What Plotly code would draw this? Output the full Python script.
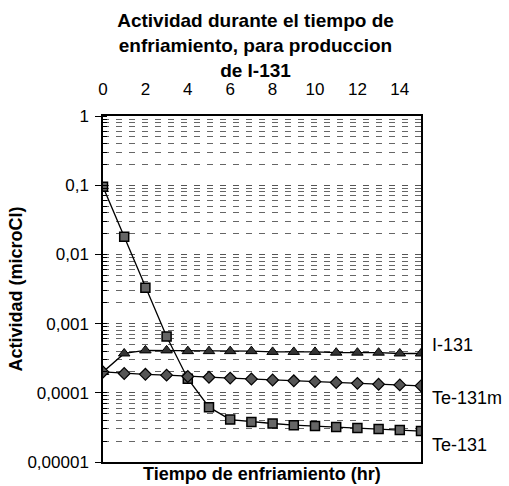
import plotly.graph_objects as go

# ---- data ----
tiempo = list(range(16))  # hr
te131 = [0.095, 0.018, 0.0033, 0.00065, 0.00016, 0.000062, 0.000041, 0.000038,
         0.000036, 0.000034, 0.000033, 0.000032, 0.000031, 0.000030, 0.000029, 0.000028]
i131 = [0.0002, 0.00037, 0.00041, 0.00041, 0.00040, 0.00040, 0.00040, 0.00040,
        0.00039, 0.00039, 0.00039, 0.00038, 0.00038, 0.00038, 0.00037, 0.00037]
te131m = [0.0002, 0.00019, 0.000185, 0.00018, 0.000172, 0.000168, 0.000163, 0.000158,
          0.000153, 0.000149, 0.000145, 0.000141, 0.000137, 0.000133, 0.00013, 0.000126]

x_ticks = [0, 2, 4, 6, 8, 10, 12, 14]
y_tickvals = [1, 0.1, 0.01, 0.001, 0.0001, 0.00001]
y_ticktext = ["1", "0,1", "0,01", "0,001", "0,0001", "0,00001"]

series_names = ["I-131", "Te-131m", "Te-131"]
label_y = [-3.31, -4.075, -4.754]  # log10 positions of the right-side labels

FONT = "Liberation Sans, Arial, sans-serif"

fig = go.Figure()
fig.add_trace(go.Scatter(
    x=tiempo, y=te131, name="Te-131", mode="lines+markers",
    line=dict(color="black", width=1.3),
    marker=dict(symbol="square", size=9, color="#666666", line=dict(color="black", width=1.5))))
fig.add_trace(go.Scatter(
    x=tiempo, y=i131, name="I-131", mode="lines+markers",
    line=dict(color="black", width=1.3),
    marker=dict(symbol="triangle-up", size=10, color="#333333", line=dict(color="black", width=1))))
fig.add_trace(go.Scatter(
    x=tiempo, y=te131m, name="Te-131m", mode="lines+markers",
    line=dict(color="black", width=1.3),
    marker=dict(symbol="diamond", size=9, color="#555555", line=dict(color="black", width=1.2))))

for name, ly in zip(series_names, label_y):
    fig.add_annotation(x=1, xref="paper", xanchor="left", xshift=9,
                       y=ly, yref="y", yanchor="middle", showarrow=False,
                       text=name, font=dict(family=FONT, size=18, color="black"))

fig.add_annotation(x=0.5, xref="paper", y=0, yref="paper", yanchor="top", yshift=0,
                   showarrow=False, text="<b>Tiempo de enfriamiento (hr)</b>",
                   font=dict(family=FONT, size=18, color="black"))

fig.update_layout(
    width=509, height=486,
    margin=dict(l=103, r=88, t=116, b=24, autoexpand=False),
    paper_bgcolor="white", plot_bgcolor="white",
    showlegend=False,
    title=dict(text="<b>Actividad durante el tiempo de<br>enfriamiento, para produccion<br>de I-131</b>",
               x=0.502, xanchor="center", xref="container",
               y=0.944, yanchor="top", yref="container",
               font=dict(family=FONT, size=19, color="black")),
    xaxis=dict(range=[0, 15], side="top", tickvals=x_ticks, ticks="",
               showline=True, linecolor="black", linewidth=1.5, mirror=True,
               showgrid=False, zeroline=False, ticklabelstandoff=12, automargin=False,
               tickfont=dict(family=FONT, size=17, color="black")),
    yaxis=dict(type="log", range=[-5, 0], tickvals=y_tickvals, ticktext=y_ticktext,
               ticks="outside", ticklen=6, tickcolor="black", automargin=False,
               ticklabelstandoff=3,
               showline=True, linecolor="black", linewidth=1.5, mirror=True,
               showgrid=True, gridcolor="#555555", griddash="6px,7px", gridwidth=1,
               minor=dict(showgrid=True, gridcolor="#666666", griddash="6px,7px",
                          gridwidth=1, ticks="inside", ticklen=4, tickcolor="black",
                          dtick="D1"),
               tickfont=dict(family=FONT, size=17, color="black"),
               title=dict(text="<b>Actividad (microCI)</b>", standoff=0,
                          font=dict(family=FONT, size=18, color="black"))),
)

fig.write_html("out.html", config={"displayModeBar": False},
               post_script="document.body.style.margin='0';document.body.style.padding='0';")
